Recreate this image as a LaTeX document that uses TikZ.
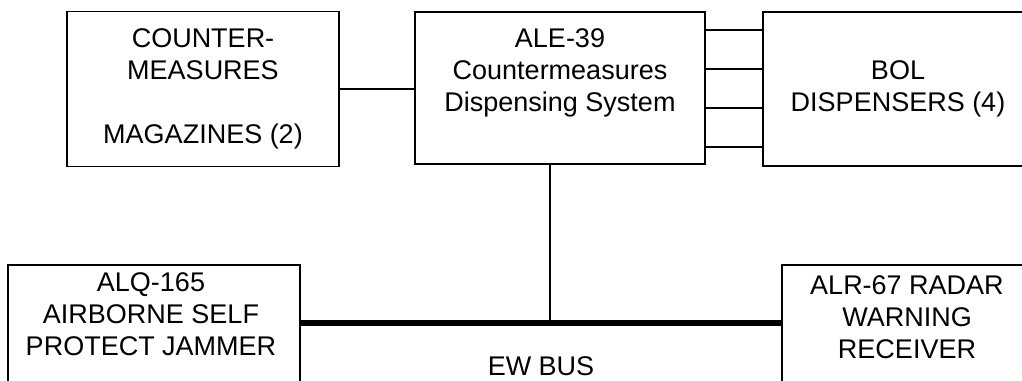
\documentclass[tikz,border=0pt]{standalone}
\usepackage{fontspec}
\setmainfont{Liberation Sans}
\usetikzlibrary{positioning, calc}

\begin{document}
\begin{tikzpicture}[
    x=1pt, y=-1pt,
    block/.style={rectangle, draw=black, line width=1.8pt, inner sep=0pt, align=center,
                  font=\fontsize{27}{32}\selectfont},
    txt/.style={align=center, inner sep=0pt, font=\fontsize{27}{32}\selectfont},
    wire/.style={line width=2pt},
    tap/.style={line width=2.6pt},
    bus/.style={line width=6pt},
  ]
    \clip (0,0) rectangle (1022,380);

    % upper row
    \node[block, minimum width=272pt, minimum height=155pt] (MAG) at (203,89)
      {COUNTER-\\MEASURES\\[32pt]MAGAZINES (2)};
    \node[block, minimum width=290pt, minimum height=152pt] (ALE) at (560,88) {};
    \node[txt] (ALEtxt) at (560,73) {ALE-39\\Countermeasures\\Dispensing System};
    \node[block, minimum width=270pt, minimum height=154pt] (BOL) at (898,89)
      {BOL\\DISPENSERS (4)};

    % lower row
    \node[block, minimum width=292pt, minimum height=175pt] (ALQ) at (154,352.5) {};
    \node[txt] (ALQtxt) at (151,314) {ALQ-165\\AIRBORNE SELF\\PROTECT JAMMER};
    \node[block, minimum width=250pt, minimum height=175pt] (ALR) at (907,352.5) {};
    \node[txt] (ALRtxt) at (907,317) {ALR-67 RADAR\\WARNING\\RECEIVER};

    \coordinate (tap) at (550,323);
    \node[txt] (EW) at (541,366) {EW BUS};

    \draw[wire] (MAG.east) -- (MAG.east -| ALE.west);
    \foreach \y in {30,69,108,147}
      \draw[wire] (ALE.east |- 0,\y) -- (BOL.west |- 0,\y);
    \draw[tap] (ALE.south -| tap) -- (tap);
    \draw[bus] (ALQ.east |- tap) -- (ALR.west |- tap);
  \end{tikzpicture}
\end{document}
